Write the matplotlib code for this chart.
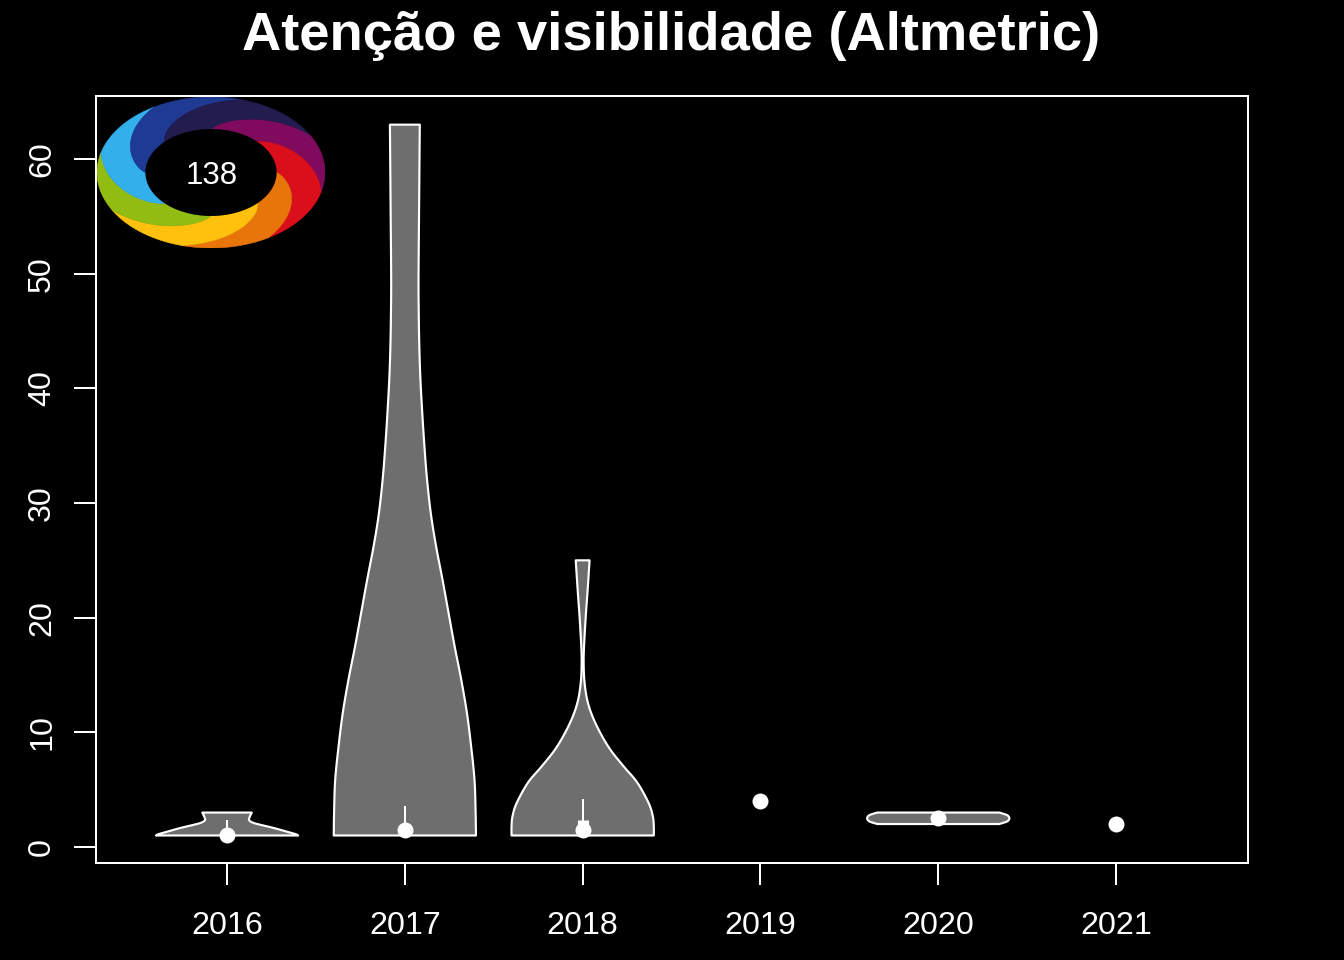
import numpy as np
import matplotlib
matplotlib.use('Agg')
import matplotlib.pyplot as plt

plt.rcParams['font.family'] = ['Liberation Sans', 'DejaVu Sans']

years = ['2016', '2017', '2018', '2019', '2020', '2021']
medians = [1, 1.5, 1.5, 4, 2.5, 2]

# violin outlines: value levels and half widths
levels_2016 = [1, 1.12, 1.33, 1.65, 1.92, 2.12, 2.35, 2.64, 3]
widths_2016 = [.40, .385, .337, .264, .191, .145, .124, .128, .139]
levels_2017 = [1, 3, 5.8, 8.74, 11.7, 14.6, 17.5, 20.4, 23.3, 26.2, 29.1, 32.2,
               35.2, 38.1, 41, 43.9, 46.8, 49.7, 55.5, 63]
widths_2017 = [.40, .398, .392, .373, .349, .317, .28, .246, .212, .176, .146, .124,
               .109, .097, .087, .081, .078, .077, .080, .084]
levels_2018 = [1, 1.8, 2.64, 3.8, 5.6, 7, 8.46, 9.9, 11.4, 12.8, 14.3, 15.7, 17.2,
               20, 22.4, 25]
widths_2018 = [.40, .40, .395, .372, .308, .232, .157, .101, .055, .026, .011, .006,
               .007, .017, .028, .039]
levels_2020 = [2, 2.1, 2.25, 2.5, 2.75, 2.9, 3]
widths_2020 = [.343, .365, .39, .40, .39, .365, .343]

# position in years list -> outline
violins = [
    (0, levels_2016, widths_2016),
    (1, levels_2017, widths_2017),
    (2, levels_2018, widths_2018),
    (4, levels_2020, widths_2020),
]

# upper whisker ends and upper quartile for the boxes
whisker_pos = [0, 1, 2]
whisker_low = [1, 1, 1]
whisker_top = [2.35, 3.57, 4.2]
box_pos = [2]
box_low = [1]
box_top = [2.35]

# altmetric donut
score = '138'
donut_colors = ['#7F0A5E', '#DB0F1B', '#E8750A', '#FFC10E',
                '#93BC12', '#33B0EC', '#1F3A93', '#231C4F']
hole_radius = 0.575
swirl = 60


def smooth_outline(levels, widths, steps=12):
    # Catmull-Rom through the points that were read, so the edge is not faceted
    pts = np.column_stack([levels, widths])
    pts = np.vstack([pts[0], pts, pts[-1]])
    u = np.linspace(0, 1, steps, endpoint=False)[:, None]
    out = []
    for p0, p1, p2, p3 in zip(pts[:-3], pts[1:-2], pts[2:-1], pts[3:]):
        out.append(0.5 * (2 * p1 + (p2 - p0) * u + (2 * p0 - 5 * p1 + 4 * p2 - p3) * u ** 2
                          + (3 * p1 - p0 - 3 * p2 + p3) * u ** 3))
    out.append(pts[-2][None, :])
    out = np.vstack(out)
    return out[:, 0], out[:, 1]


def draw_donut(ax):
    t = np.linspace(0, 1, 40)
    r = hole_radius + (1 - hole_radius) * t
    bend = swirl * t ** 1.2
    for i, color in enumerate(donut_colors):
        start = 90 - 45 * i
        end = start - 45
        arc = np.linspace(start, end, 30)
        theta = np.concatenate([arc, end - bend, arc[::-1] - swirl, (start - bend)[::-1]])
        rad = np.concatenate([np.full(30, hole_radius), r, np.full(30, 1.0), r[::-1]])
        ax.fill(rad * np.cos(np.radians(theta)), rad * np.sin(np.radians(theta)),
                color=color, lw=0.4)
    hole = np.radians(np.linspace(0, 360, 200))
    ax.fill(hole_radius * np.cos(hole), hole_radius * np.sin(hole), color='black', lw=0)
    ax.text(0.01, -0.05, score, color='white', fontsize=22.5, ha='center', va='center')


fig = plt.figure(figsize=(13.44, 9.6), dpi=100, facecolor='black')
ax = fig.add_axes([96 / 1344, 1 - 863 / 960, 1152 / 1344, 767 / 960], facecolor='black')

for pos, levels, widths in violins:
    levels, widths = smooth_outline(levels, widths)
    xs = np.concatenate([pos - widths, (pos + widths)[::-1]]) + 1
    ys = np.concatenate([levels, levels[::-1]])
    ax.fill(xs, ys, facecolor='#6E6E6E', edgecolor='white', lw=1.55, joinstyle='round')

for pos, low, top in zip(whisker_pos, whisker_low, whisker_top):
    ax.plot([pos + 1, pos + 1], [low, top], color='white', lw=1.45, solid_capstyle='butt')
for pos, low, top in zip(box_pos, box_low, box_top):
    ax.plot([pos + 1, pos + 1], [low, top], color='white', lw=8, solid_capstyle='butt')

ax.plot(np.arange(1, len(years) + 1), medians, 'o', color='white', ms=11.5, mew=0,
        clip_on=False, zorder=5)

ax.set_xlim(0.263, 6.742)
ax.set_ylim(-1.4, 65.5)
ax.set_xticks(np.arange(1, len(years) + 1))
ax.set_xticklabels(years)
ax.set_yticks(range(0, 61, 10))
ax.tick_params(axis='x', colors='white', length=16, width=1.45, labelsize=23.2, pad=18.5)
ax.tick_params(axis='y', colors='white', length=16, width=1.45, labelsize=23.2, pad=12)
for label in ax.get_yticklabels():
    label.set_rotation(90)
    label.set_va('center')
for spine in ax.spines.values():
    spine.set_color('white')
    spine.set_linewidth(1.45)

fig.text(671 / 1344, 1 - 36 / 960, 'Atenção e visibilidade (Altmetric)', color='white',
         fontsize=39.2, fontweight='bold', ha='center', va='center')

logo = fig.add_axes([97 / 1344, 1 - 248 / 960, 228 / 1344, 151 / 960])
logo.set_xlim(-1, 1)
logo.set_ylim(-1, 1)
logo.axis('off')
draw_donut(logo)

fig.savefig('out.png', dpi=100, facecolor='black')
